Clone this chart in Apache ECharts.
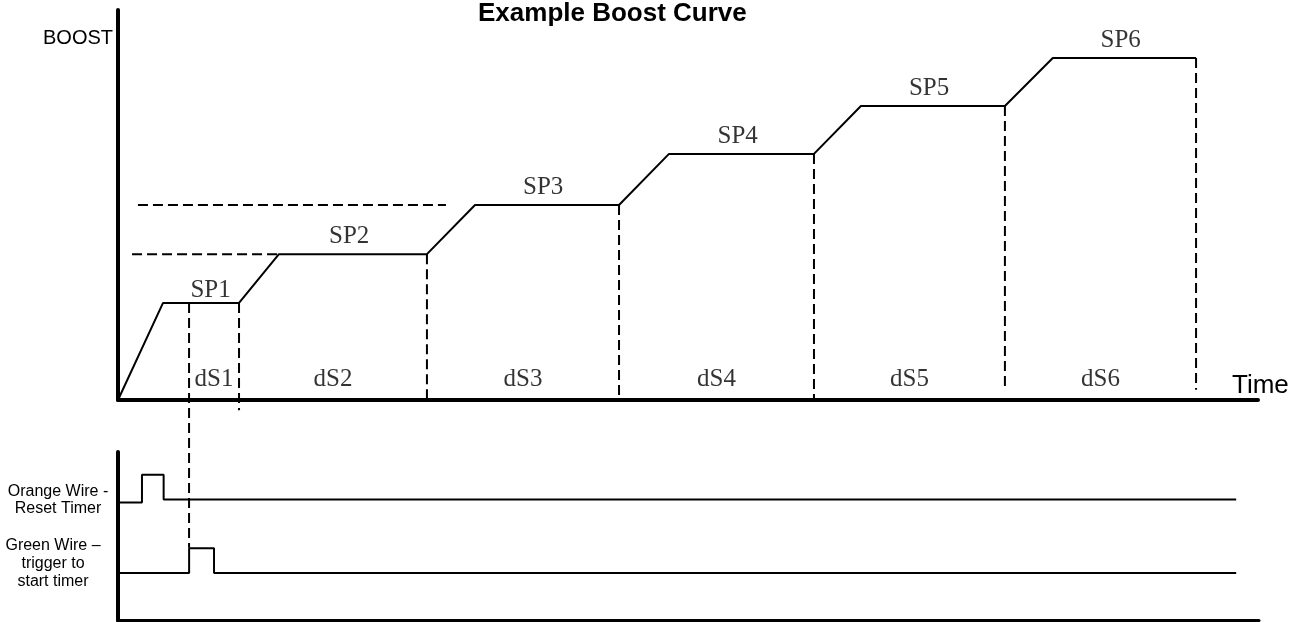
<!DOCTYPE html>
<html>
<head>
<meta charset="utf-8">
<script src="https://cdn.jsdelivr.net/npm/echarts@6/dist/echarts.min.js"></script>
<style>html,body{margin:0;padding:0;background:#fff;}#c{width:1296px;height:622px;}</style>
</head>
<body>
<div id="c"></div>
<script>
// ---- data ----
const setpointNames = ['SP1', 'SP2', 'SP3', 'SP4', 'SP5', 'SP6'];
const stepNames = ['dS1', 'dS2', 'dS3', 'dS4', 'dS5', 'dS6'];
const boostLevels = [24.9, 37.4, 50, 63.1, 75.4, 87.7];
const rampEndTimes = [2.37, 8.47, 18.79, 29.0, 39.1, 49.2];
const holdEndTimes = [6.37, 16.26, 26.37, 36.63, 46.68, 56.74];
const timerStartTime = 3.74;
const refLineLevels = [37.4, 50];
const refLineStarts = [0.74, 1.05];
const refLineEnds = [8.47, 17.26];
// bottom signal traces: [time, level]
const orangeWire = [[0, 11.9], [1.26, 11.9], [1.26, 14.7], [2.4, 14.7], [2.4, 12.2], [58.8, 12.2]];
const greenWire = [[0, 4.8], [3.74, 4.8], [3.74, 7.3], [5.05, 7.3], [5.05, 4.8], [58.8, 4.8]];

const SANS = '"Liberation Sans", Arial, sans-serif';
const SERIF = '"Liberation Serif", "Times New Roman", serif';
const BLACK = '#000';

// boost curve points
const curve = [[0, 0]];
boostLevels.forEach((lv, i) => {
  curve.push([rampEndTimes[i], lv]);
  curve.push([holdEndTimes[i], lv]);
});

// vertical dashed boundaries (bottom extents are drawing style)
const dashBottoms = [-2.6, 0, 0, 0, 2.6, 2.6];
const series = [];
const dashStyle = { color: BLACK, width: 2, type: [10, 5] };

series.push({
  type: 'line', xAxisIndex: 0, yAxisIndex: 0, data: curve, symbol: 'none',
  lineStyle: { color: BLACK, width: 2 }, clip: false, silent: true
});
// timer start dashed line, continuing down to the green trigger pulse
series.push({
  type: 'line', xAxisIndex: 0, yAxisIndex: 0, symbol: 'none', clip: false, silent: true,
  data: [[timerStartTime, boostLevels[0]], [timerStartTime, -37.9]],
  lineStyle: dashStyle
});
holdEndTimes.forEach((t, i) => {
  series.push({
    type: 'line', xAxisIndex: 0, yAxisIndex: 0, symbol: 'none', clip: false, silent: true,
    data: [[t, boostLevels[i]], [t, dashBottoms[i]]],
    lineStyle: dashStyle
  });
});
refLineLevels.forEach((lv, i) => {
  series.push({
    type: 'line', xAxisIndex: 0, yAxisIndex: 0, symbol: 'none', clip: false, silent: true,
    data: [[refLineStarts[i], lv], [refLineEnds[i], lv]],
    lineStyle: dashStyle
  });
});
// SP labels
series.push({
  type: 'scatter', xAxisIndex: 0, yAxisIndex: 0, symbolSize: 0, silent: true, clip: false,
  data: setpointNames.map((n, i) => {
    const item = { name: n, value: [(rampEndTimes[i] + holdEndTimes[i]) / 2 + (i === 0 ? 0.5 : -0.2), boostLevels[i]] };
    if (i === 0) item.label = { distance: 0 };
    return item;
  }),
  label: { show: true, position: 'top', distance: 5, formatter: p => p.name, color: BLACK, fontFamily: SERIF, fontSize: 25 }
});
// dS labels
const stepBounds = [timerStartTime].concat(holdEndTimes);
series.push({
  type: 'scatter', xAxisIndex: 0, yAxisIndex: 0, symbolSize: 0, silent: true, clip: false,
  data: stepNames.map((n, i) => ({ name: n, value: [(stepBounds[i] + stepBounds[i + 1]) / 2, 0] })),
  label: { show: true, position: 'top', distance: 8, formatter: p => p.name, color: BLACK, fontFamily: SERIF, fontSize: 25 }
});
// bottom signals
[orangeWire, greenWire].forEach(d => {
  series.push({
    type: 'line', xAxisIndex: 1, yAxisIndex: 1, data: d, symbol: 'none', silent: true,
    lineStyle: { color: BLACK, width: 2 }
  });
});

const option = {
  animation: false,
  backgroundColor: '#fff',
  title: {
    text: 'Example Boost Curve', left: 473, top: -4,
    textStyle: { fontFamily: SANS, fontSize: 26, fontWeight: 'bold', color: BLACK }
  },
  grid: [
    { left: 118, top: 10, width: 1140, height: 390 },
    { left: 118, top: 452, width: 1141, height: 168.5 }
  ],
  xAxis: [
    {
      gridIndex: 0, type: 'value', min: 0, max: 60,
      axisLine: { show: true, lineStyle: { color: BLACK, width: 4 } },
      axisTick: { show: false }, axisLabel: { show: false }, splitLine: { show: false },
      name: 'Time', nameLocation: 'end', nameGap: -26,
      nameTextStyle: { fontFamily: SANS, fontSize: 26, color: BLACK, align: 'left', verticalAlign: 'bottom', padding: [0, 0, 1, 0] }
    },
    {
      gridIndex: 1, type: 'value', min: 0, max: 60,
      axisLine: { show: true, lineStyle: { color: BLACK, width: 3 } },
      axisTick: { show: false }, axisLabel: { show: false }, splitLine: { show: false }
    }
  ],
  yAxis: [
    {
      gridIndex: 0, type: 'value', min: 0, max: 100,
      axisLine: { show: true, lineStyle: { color: BLACK, width: 4 } },
      axisTick: { show: false }, axisLabel: { show: false }, splitLine: { show: false },
      name: 'BOOST', nameLocation: 'end', nameGap: -28,
      nameTextStyle: { fontFamily: SANS, fontSize: 20, color: BLACK, align: 'right', verticalAlign: 'middle', padding: [0, 5, 0, 0] }
    },
    {
      gridIndex: 1, type: 'value', min: 0, max: 17,
      axisLine: { show: true, lineStyle: { color: BLACK, width: 4 } },
      axisTick: { show: false }, axisLabel: { show: false }, splitLine: { show: false }
    }
  ],
  graphic: [
    {
      type: 'text', x: 58, y: 500, silent: true,
      style: { text: 'Orange Wire -\nReset Timer', align: 'center', verticalAlign: 'middle',
        font: '16px ' + SANS, lineHeight: 17, fill: BLACK }
    },
    {
      type: 'text', x: 53, y: 564, silent: true,
      style: { text: 'Green Wire \u2013\ntrigger to\nstart timer', align: 'center', verticalAlign: 'middle',
        font: '16px ' + SANS, lineHeight: 18, fill: BLACK }
    }
  ],
  series: series
};

const chart = echarts.init(document.getElementById('c'), null, { renderer: 'canvas' });
chart.setOption(option);
</script>
</body>
</html>
